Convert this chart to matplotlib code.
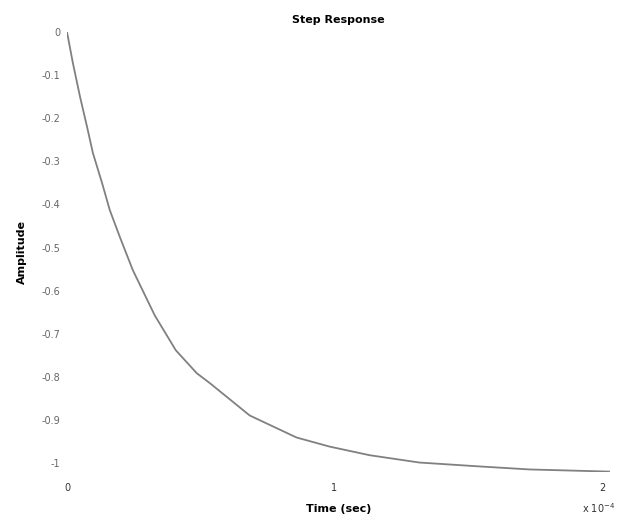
import matplotlib
matplotlib.use("Agg")
import matplotlib.pyplot as plt

# Curve points (time in units of 1e-4 s)
time_e4 = [0.0, 0.022, 0.049, 0.075, 0.097, 0.131, 0.160, 0.198, 0.246, 0.328,
           0.407, 0.485, 0.534, 0.683, 0.858, 0.981, 1.131, 1.317, 1.541, 1.728, 2.026]
amplitude = [0.0, -0.072, -0.151, -0.220, -0.281, -0.350, -0.413, -0.476, -0.552, -0.657,
             -0.738, -0.791, -0.814, -0.889, -0.940, -0.961, -0.981, -0.998, -1.007, -1.014, -1.019]

y_ticks = [0, -0.1, -0.2, -0.3, -0.4, -0.5, -0.6, -0.7, -0.8, -0.9, -1.0]
y_tick_labels = ["0", "-0.1", "-0.2", "-0.3", "-0.4", "-0.5", "-0.6", "-0.7", "-0.8", "-0.9", "-1"]
x_ticks = [0, 1, 2]
x_tick_labels = ["0", "1", "2"]

fig = plt.figure(figsize=(6.2, 5.21), dpi=100)
ax = fig.add_axes([0.108, 0.094, 0.876, 0.845])
ax.plot(time_e4, amplitude, color="#808080", linewidth=1.3)
ax.set_xlim(0, 2.03)
ax.set_ylim(-1.02, 0.0)

for s in ax.spines.values():
    s.set_visible(False)
ax.set_yticks(y_ticks)
ax.set_yticklabels(y_tick_labels, color="#666666", fontsize=7)
ax.set_xticks(x_ticks)
ax.set_xticklabels(x_tick_labels, color="#333333", fontsize=7)
ax.tick_params(axis="y", length=0, pad=5)
ax.tick_params(axis="x", length=0, pad=8)

ax.set_title("Step Response", fontsize=8, fontweight="bold", pad=6)
ax.set_ylabel("Amplitude", fontsize=8, fontweight="bold", labelpad=10)
ax.set_xlabel("Time (sec)", fontsize=8, fontweight="bold", labelpad=8)
fig.text(0.965, 0.012, r"x 10$^{-4}$", fontsize=7, color="#333333", ha="center", va="bottom")

fig.savefig("out.png", dpi=100)
